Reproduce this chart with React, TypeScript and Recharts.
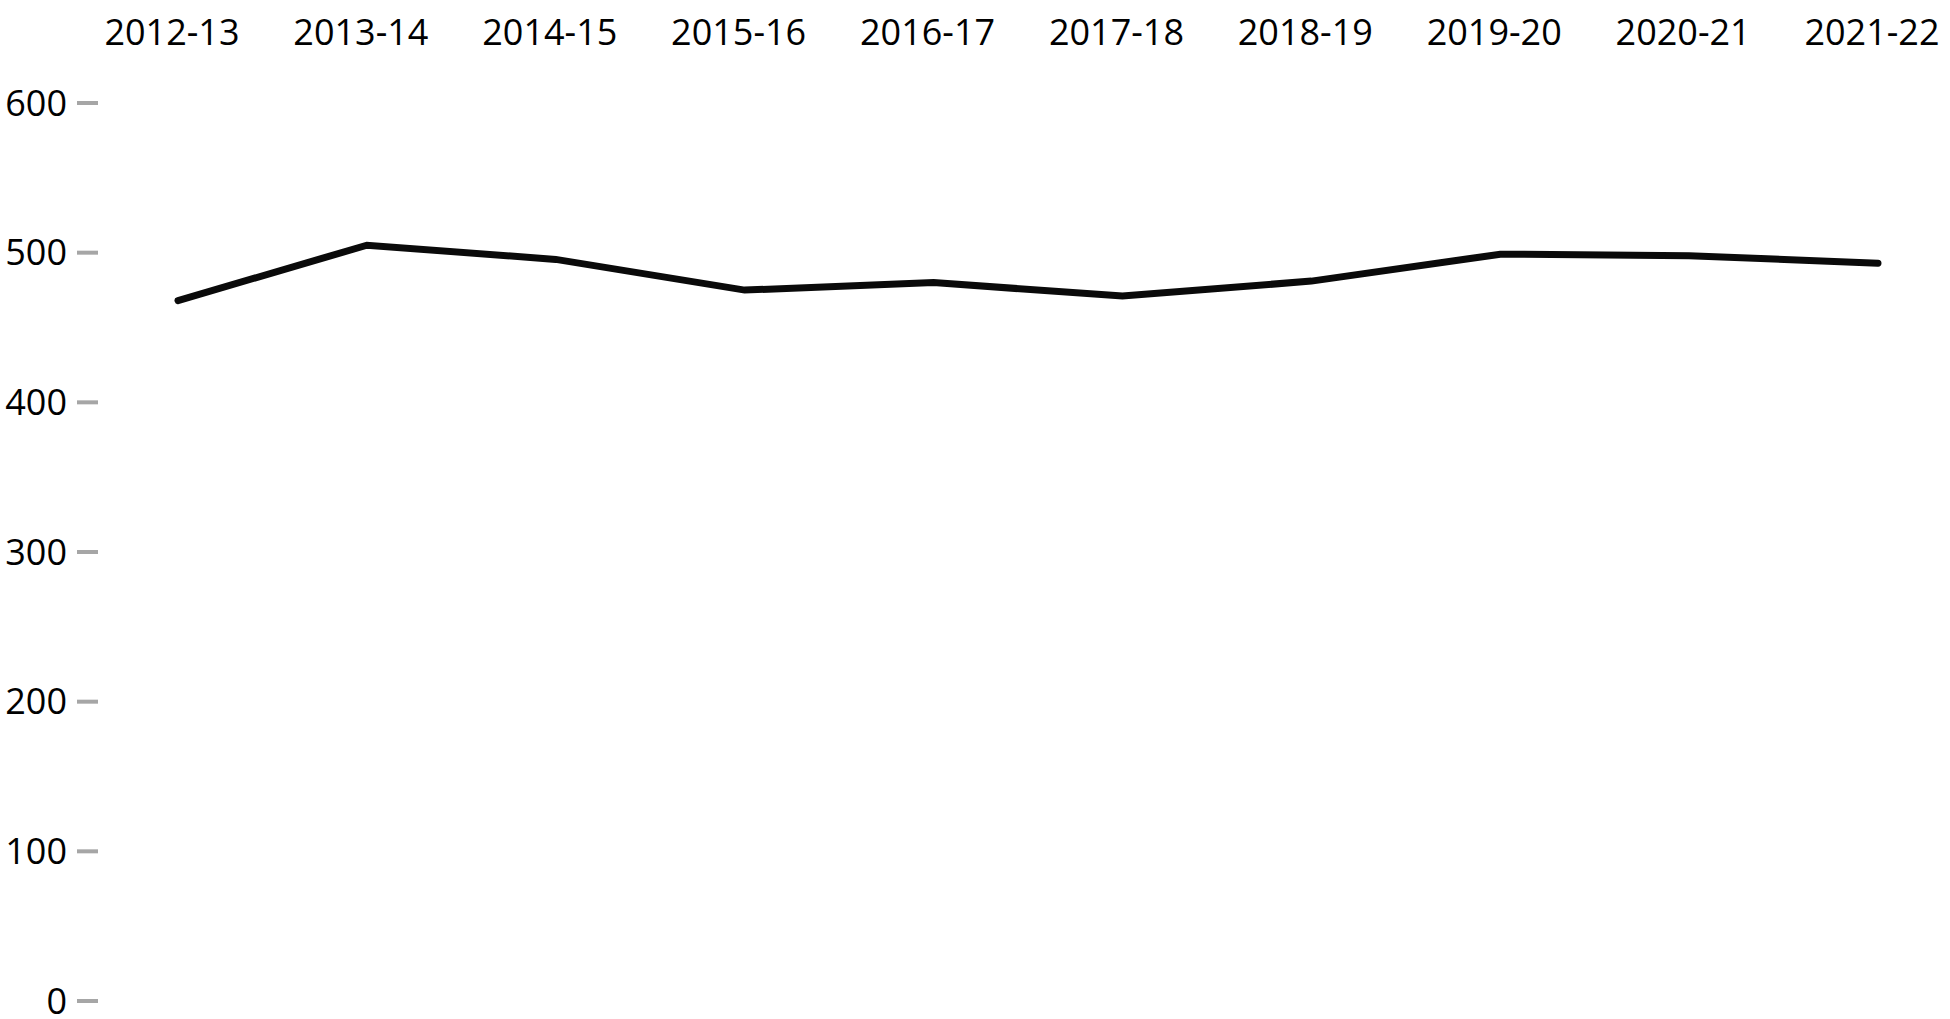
import * as React from "react";
import { LineChart, Line, XAxis, YAxis } from "recharts";

const years = [
  "2012-13",
  "2013-14",
  "2014-15",
  "2015-16",
  "2016-17",
  "2017-18",
  "2018-19",
  "2019-20",
  "2020-21",
  "2021-22",
];
const values = [468, 505, 495.5, 475, 480, 471, 481, 499, 498, 493];
const yTicks = [0, 100, 200, 300, 400, 500, 600];

const FONT = "'Open Sans', sans-serif";

export default function App() {
  const data = React.useMemo(
    () => years.map((year, i) => ({ year, value: values[i] })),
    []
  );

  return (
    <div style={{ position: "absolute", left: 0, top: 0, background: "#fff" }}>
      <LineChart
        width={1950}
        height={1019}
        data={data}
        margin={{ top: 0, right: 72, bottom: 18, left: 0 }}
      >
        <XAxis
          dataKey="year"
          orientation="top"
          height={103}
          axisLine={false}
          tickLine={false}
          tickSize={0}
          tickMargin={58}
          padding={{ left: 80, right: 0 }}
          interval={0}
          tick={{ fill: "#000", fontSize: 36, fontFamily: FONT, dx: -6 }}
        />
        <YAxis
          width={98}
          domain={[0, 600]}
          ticks={yTicks}
          interval={0}
          axisLine={false}
          tickSize={21}
          tickMargin={10}
          tickLine={{ stroke: "#a6a6a6", strokeWidth: 4 }}
          tick={{ fill: "#000", fontSize: 36, fontFamily: FONT }}
        />
        <Line
          type="linear"
          dataKey="value"
          stroke="#0a0a0a"
          strokeWidth={7}
          strokeLinecap="round"
          dot={false}
          activeDot={false}
          isAnimationActive={false}
        />
      </LineChart>
    </div>
  );
}
